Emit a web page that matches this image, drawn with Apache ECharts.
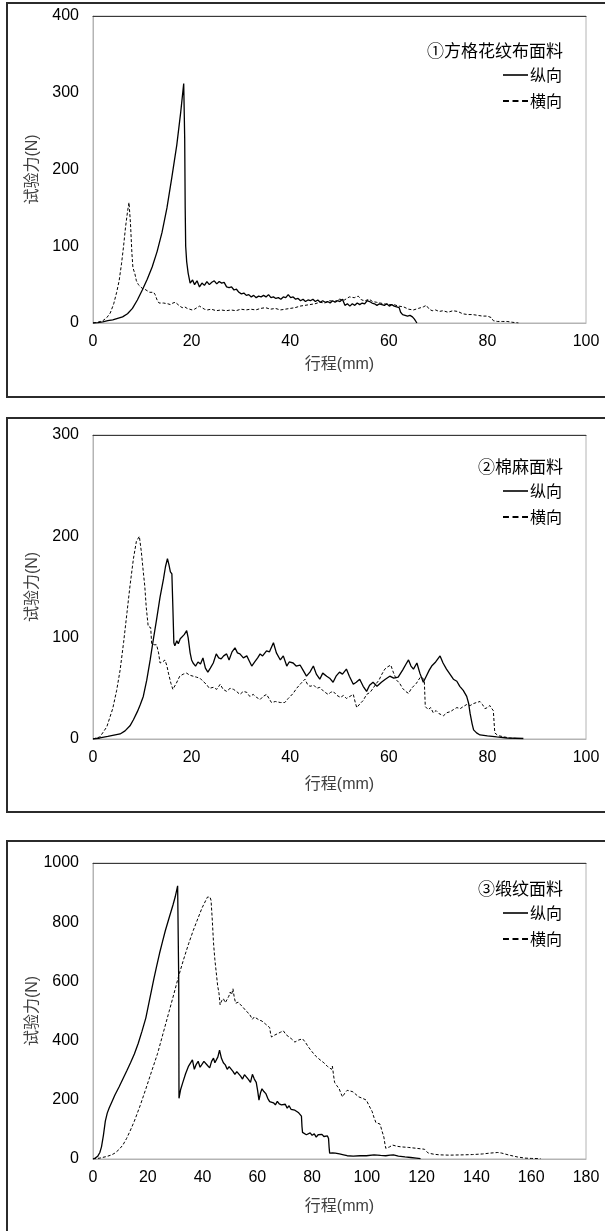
<!DOCTYPE html>
<html lang="zh">
<head>
    <meta charset="UTF-8">
    <title>试验力-行程曲线</title>
    <script src="https://cdn.jsdelivr.net/npm/echarts@6/dist/echarts.min.js"></script>
    <style>
        html, body { margin: 0; padding: 0; background: #fff; }
    </style>
</head>
<body>
    <div id="chart" style="width: 605px;height: 1231px;"></div>
    <script>
        // 面料名称
        var panelTitles = ['①方格花纹布面料', '②棉麻面料', '③缎纹面料'];
        var seriesNames = ['纵向', '横向'];
        // 坐标轴刻度
        var xMax = [100, 100, 180];
        var xStep = [20, 20, 20];
        var yMax = [400, 300, 1000];
        var yStep = [100, 100, 200];

        // ① 方格花纹布 [行程mm, 试验力N]
        var plaidWarp = [[0,0],[1,0.5],[2,1.5],[3,3],[4,4],[5,6],[6,8],[7,12],[8,19],[9,30],[10,43],[11,57],[12,73],[13,93],[14,118],[15,150],[16,190],[17,232],[17.8,275],[18.4,312],[18.6,240],[18.7,150],[18.8,100],[19,80],[19.3,65],
            [19.7,52],[20.2,56],[20.6,50],[21.1,55],[21.6,47],[22.1,52],[22.6,49],[23.1,54],[23.6,50],[24.1,53],[24.6,55],[25.1,51],[25.6,54],[26.1,52],[26.6,53],[27.1,47],[27.6,46],[28.1,47],[28.6,43],[29.1,44],[29.6,40],[30.1,38],[30.6,39],[31.1,36],[31.6,37],[32.1,34],[32.6,36],[33.1,33],[33.6,35],[34.1,34],[34.6,36],[35.1,34],[35.6,37],[36.1,33],[36.6,34],[37.1,32],[37.6,33],[38.1,31],[38.6,34],[39.1,33],[39.6,37],[40.1,33],[40.6,34],[41.1,31],[41.6,32],[42.1,29],[42.6,31],[43.1,28],[43.6,30],[44.1,29],[44.6,31],[45.1,28],[45.6,30],[46.1,27],[46.6,29],[47.1,27],[47.6,28],[48.1,26],[48.6,29],[49.1,27],[49.6,29],[50.1,28],[50.6,31],[51.1,23],[51.6,25],[52.1,22],[52.6,25],[53.1,23],[53.6,26],[54.1,24],[54.6,26],[55.1,25],[55.6,29],[56.1,28],[56.6,26],[57.1,25],[57.6,23],[58.1,25],[58.6,24],[59.1,23],[59.6,25],[60.1,22],[60.6,24],[61.1,22],[61.6,21],[62.1,20],[62.4,14],[62.8,11],[63.3,10],[63.8,9],[64.3,10],[64.8,8],[65.2,5],[65.7,0]];
        var plaidWeft = [[0,0],[1,1],[2,3],[2.8,7],[3.5,13],[4.2,25],[4.8,40],[5.3,55],[5.8,78],[6.2,100],[6.6,125],[7,145],[7.3,157],[7.6,130],[7.9,90],[8.1,72],[8.3,70],[8.5,64],[8.8,55],[9.2,50],[9.6,48],[10,45],[10.5,44],[11,42],[11.5,40],[11.9,38],[12.3,40],[12.6,37],[13,30],[13.4,26],[13.8,25],[14.3,26],[14.7,28],[15.2,25],[15.7,24],[16.2,26],[16.7,27],[17.1,25],[17.6,22],[18.1,20],[18.6,21],[19.1,19],[19.6,18],[20.1,17],[20.6,18],[21.1,20],[21.6,22],[22.1,20],[22.6,18],[23.2,17],[24,18],[25,16],[26,17],[27,16],[28,17],[29,16],[30,18],[31,17],[32,18],[33,17],[34,19],[35,20],[36,18],[37,19],[38,17],[39,18],[40,19],[41,20],[42,22],[43,23],[44,24],[45,25],[46,27],[47,26],[48,29],[49,28],[50,31],[51,30],[52,34],[53,33],[53.8,35],[54.5,30],[55.2,29],[56,31],[56.7,28],[57.5,27],[58.3,26],[59,25],[60,24],[61,24],[62,22],[63,21],[64,18],[65,17],[66,19],[67,21],[67.6,23],[68.2,18],[68.8,16],[69.5,17],[70.2,15],[71,16],[72,14],[73,16],[74,15],[75,12],[76,11],[77,11],[78,10],[79,9],[80,9],[80.8,7],[81.2,3],[82,2],[83,2],[84,2],[85,1],[86.3,0]];

        // ② 棉麻
        var cottonWarp = [[0,0],[1.4,1],[3,2.5],[4.5,4],[5.5,5],[6.5,8],[7.5,13],[8.2,19],[9,27],[9.6,34],[10.2,42],[10.9,58],[11.6,78],[12.2,97],[12.9,118],[13.6,140],[14.3,158],[14.7,170],[15.1,178],[15.4,172],[15.7,165],[16,163],[16.2,130],[16.4,95],[16.6,92],[17,97],[17.3,94],[17.7,99],[18,98],[18.5,103],[19,107],[19.3,100],[19.7,85],[20,78],[20.3,75],[20.8,72],[21.3,76],[21.8,74],[22.3,80],[22.8,70],[23.3,66],[23.8,70],[24.4,75],[25,84],[25.5,80],[26,79],[26.5,82],[27.1,84],[27.6,78],[28.2,86],[28.8,90],[29.3,85],[29.8,84],[30.5,80],[31.2,82],[31.7,77],[32.2,72],[32.8,76],[33.4,80],[33.9,84],[34.4,82],[35.2,87],[35.8,86],[36.6,95],[37.2,85],[37.6,86],[38,78],[38.6,82],[39.3,72],[39.8,76],[40.6,75],[41.2,72],[42,73],[42.6,68],[43.3,62],[44,66],[44.7,72],[45.3,64],[46,59],[46.6,65],[47.4,62],[48,60],[48.7,56],[49.3,62],[50,66],[50.6,64],[51.4,69],[52,62],[52.8,54],[53.4,56],[54.1,59],[54.8,52],[55.5,47],[56.1,53],[56.8,56],[57.6,52],[58.5,56],[59.3,59],[60.2,62],[61,60],[61.9,61],[62.8,68],[63.5,74],[64,78],[64.5,72],[65,69],[65.7,75],[66.3,65],[67,56],[67.6,62],[68.2,68],[68.7,72],[69.5,76],[70.4,82],[71,75],[71.7,69],[72.4,64],[73.1,59],[73.8,57],[74.4,52],[75.1,48],[75.8,42],[76.2,35],[76.5,25],[76.9,15],[77.2,9],[77.8,6],[78.5,4],[80,3],[81.9,2],[84,1],[87.3,0.5]];
        var cottonWeft = [[0,0],[1.4,2],[2.8,12],[4,30],[4.8,48],[5.5,68],[6.2,95],[6.9,125],[7.5,151],[8.2,178],[8.8,195],[9.4,200],[9.8,185],[10.2,165],[10.5,151],[10.8,130],[11.2,111],[11.7,110],[11.9,94],[12.4,93],[12.9,93],[13.3,85],[13.6,75],[14.1,76],[14.6,78],[15,72],[15.3,65],[15.8,55],[16.2,49],[16.9,55],[17.6,62],[18.3,64],[19,65],[19.6,63],[20.3,62],[21,61],[21.7,60],[22.3,57],[23,54],[23.6,50],[24.4,51],[25.1,49],[25.8,54],[26.4,49],[27.1,47],[27.8,50],[28.5,49],[29.1,47],[29.8,44],[30.5,47],[31.2,46],[31.8,42],[32.5,44],[33.2,41],[33.9,39],[34.5,42],[35.2,44],[35.7,40],[36.2,36],[37,37],[38,36],[38.9,36],[39.6,40],[40.6,45],[41.3,50],[42.2,55],[43,59],[43.5,54],[44,52],[44.8,53],[45.4,50],[46,51],[46.8,47],[47.7,44],[48.2,46],[48.7,47],[49.5,43],[50.2,41],[50.8,43],[51.4,40],[52.1,42],[52.8,44],[53.2,36],[53.5,31],[54.2,35],[54.8,38],[55.5,44],[56.2,46],[56.8,50],[57.5,55],[58,58],[58.6,64],[59.2,69],[59.7,71],[60.4,73],[60.9,66],[61.6,58],[62.2,55],[62.8,50],[63.4,47],[64,45],[64.6,50],[65,51],[65.6,55],[66.4,61],[66.9,60],[67.2,58],[67.4,32],[68,29],[68.5,31],[69,26],[69.6,28],[70.2,25],[71.1,23],[71.8,26],[72.5,27],[73.1,29],[73.8,31],[74.5,30],[75.1,32],[75.8,34],[76.5,33],[77.2,35],[77.8,36],[78.5,37],[79,34],[79.5,30],[80,31],[80.5,33],[80.9,30],[81.2,28],[81.5,6],[82,4],[82.5,3],[83.5,2],[84.5,1],[86,0.5]];

        // ③ 缎纹
        var satinWarp = [[0,0],[0.8,3],[1.7,9],[2.5,22],[3.1,41],[3.8,80],[4.5,128],[5.2,155],[5.9,172],[7,195],[8,216],[9.5,243],[10.9,270],[12.3,297],[13.7,325],[15.1,355],[16.5,390],[17.9,432],[19.3,477],[20.7,540],[22.2,608],[23.2,650],[24.3,695],[25.4,735],[26.4,771],[27.8,815],[29.2,858],[30,885],[30.9,923],[31.2,928],[31.3,600],[31.4,205],[32,235],[32.8,259],[33.8,288],[34.9,314],[35.6,320],[36.3,335],[37,303],[37.7,320],[38.4,330],[39.1,310],[39.8,308],[40.5,330],[41.2,335],[41.9,315],[42.6,308],[43.3,330],[44,341],[44.5,325],[45,319],[45.6,345],[46.2,368],[46.9,340],[47.6,325],[48.3,318],[49,303],[49.7,312],[50.4,308],[51.1,296],[51.8,286],[52.5,295],[53.2,292],[53.9,280],[54.6,270],[55.3,285],[56,281],[56.8,268],[57.5,259],[58.2,286],[58.9,270],[59.6,259],[60.1,232],[60.6,199],[61.2,225],[61.7,237],[62.4,228],[63.1,221],[63.8,205],[64.5,194],[65.2,200],[65.9,190],[66.6,183],[67.3,195],[68,186],[68.8,183],[69.5,178],[70.2,185],[70.9,172],[71.6,180],[72.3,168],[73,172],[73.7,165],[74.4,168],[75.1,156],[75.7,162],[76.1,145],[76.3,110],[76.5,90],[77.2,85],[77.9,82],[78.6,79],[79.3,88],[80,80],[80.8,85],[81.5,74],[82.2,82],[82.9,79],[83.6,83],[84.3,76],[85,74],[85.6,78],[86,69],[86.2,40],[86.4,20],[87.5,21],[88.5,20],[90,17],[91.5,14],[92.8,11],[95,10],[97.5,11],[99.8,11],[102.6,14],[105,12],[106.9,11],[108.5,13],[109.7,14],[111.5,10],[113.9,7],[116,5],[118,3],[119.6,1]];
        var satinWeft = [[0,0],[2.5,3],[5.2,9],[6.8,14],[8,20],[9.5,32],[10.9,47],[12.3,70],[13.7,98],[15.1,128],[17.2,180],[19.3,237],[21.4,296],[23.6,357],[25.7,428],[27.8,499],[29.6,560],[31.3,619],[33.1,675],[34.9,727],[36.6,772],[38.4,815],[39.8,848],[41.2,874],[41.8,885],[42.2,891],[42.7,885],[43.1,874],[43.6,800],[44,730],[44.5,673],[45,630],[45.5,586],[46,560],[46.4,521],[47,535],[47.6,542],[48.3,528],[49,531],[49.6,550],[50.1,564],[50.6,555],[51.1,575],[51.6,545],[52.1,526],[53,530],[53.9,521],[55,510],[56,499],[57.1,490],[58.2,472],[58.9,480],[59.6,482],[60.6,470],[61.7,466],[62.4,470],[63.1,455],[63.8,452],[64.5,444],[64.9,420],[65.2,412],[66.2,418],[67.3,423],[68.4,428],[69.5,433],[70.5,420],[71.6,412],[72.6,405],[73.7,395],[75.1,402],[76.5,406],[77.5,395],[78.6,379],[80,362],[81.5,346],[82.9,335],[84.3,325],[85.7,312],[87.1,303],[87.4,314],[87.8,285],[88.2,259],[89,248],[89.9,237],[90.5,222],[91.1,210],[91.9,222],[92.8,232],[93.8,230],[94.9,227],[96,218],[97,210],[98.4,205],[99.8,199],[100.8,180],[101.9,161],[102.6,140],[103.3,123],[104,125],[104.8,118],[105.5,95],[106.2,74],[106.6,50],[106.9,36],[107.6,38],[108.3,41],[109.4,47],[111,43],[112.5,41],[115.3,39],[118.2,36],[121,33],[121.7,27],[122.4,20],[124.5,16],[126.6,14],[130,13],[135.1,14],[138.5,15],[142.2,17],[145,20],[147.8,22],[149.2,20],[152,13],[154.9,7],[157.7,3],[160,2],[163.4,1]];

        var warpData = [plaidWarp, cottonWarp, satinWarp];
        var weftData = [plaidWeft, cottonWeft, satinWeft];

        // 版面位置
        var gridTops = [16, 435, 863];
        var gridHeights = [307, 304, 296];
        var boxTops = [3, 418, 841];
        var legendTops = [62, 478, 900];
        var titleTops = [37, 453, 875];
        var xNameGaps = [34, 38, 40];

        var numFont = "'Liberation Sans', 'Noto Sans CJK SC', sans-serif";
        var cjkFont = "'Noto Sans CJK SC', sans-serif";

        var grid = [], xAxis = [], yAxis = [], series = [], legend = [], title = [], graphic = [];
        for (var i = 0; i < 3; i++) {
            graphic.push({
                type: 'rect',
                shape: { x: 7, y: boxTops[i], width: 610, height: 394 },
                style: { fill: 'none', stroke: '#2b2b2b', lineWidth: 2 },
                silent: true
            });
            grid.push({
                left: 93, width: 493, top: gridTops[i], height: gridHeights[i],
                show: true, borderColor: '#b4b4b4', borderWidth: 1
            });
            xAxis.push({
                gridIndex: i,
                type: 'value',
                min: 0, max: xMax[i], interval: xStep[i],
                name: '行程(mm)',
                nameLocation: 'middle',
                nameGap: xNameGaps[i],
                nameMoveOverlap: false,
                nameTextStyle: { fontSize: 16, color: '#404040', fontFamily: numFont },
                axisLine: { show: true, onZero: false, lineStyle: { color: '#b4b4b4', width: 1 } },
                axisTick: { show: false },
                splitLine: { show: false },
                axisLabel: { fontSize: 16, color: '#000', margin: 11, fontFamily: numFont }
            });
            // 图框上边线
            xAxis.push({
                gridIndex: i,
                type: 'value',
                position: 'top',
                min: 0, max: xMax[i],
                axisLine: { show: true, onZero: false, lineStyle: { color: '#3a3a3a', width: 1 } },
                axisTick: { show: false },
                axisLabel: { show: false },
                splitLine: { show: false }
            });
            yAxis.push({
                gridIndex: i,
                type: 'value',
                min: 0, max: yMax[i], interval: yStep[i],
                name: '试验力(N)',
                nameLocation: 'middle',
                nameGap: 52,
                nameMoveOverlap: false,
                nameRotate: 90,
                nameTextStyle: { fontSize: 16, color: '#404040', fontFamily: numFont },
                axisLine: { show: true, lineStyle: { color: '#b4b4b4', width: 1 } },
                axisTick: { show: false },
                splitLine: { show: false },
                axisLabel: {
                    fontSize: 16, color: '#000', margin: 14, fontFamily: numFont,
                    formatter: function (v) { return String(v); }
                }
            });
            series.push({
                name: seriesNames[0],
                type: 'line',
                xAxisIndex: i * 2, yAxisIndex: i,
                data: warpData[i],
                showSymbol: false, symbol: 'none',
                lineStyle: { color: '#000', width: 1.3 },
                animation: false
            });
            series.push({
                name: seriesNames[1],
                type: 'line',
                xAxisIndex: i * 2, yAxisIndex: i,
                data: weftData[i],
                showSymbol: false, symbol: 'none',
                lineStyle: { color: '#000', width: 1, type: [3, 2] },
                animation: false
            });
            title.push({
                text: panelTitles[i],
                right: 37, top: titleTops[i],
                textStyle: { fontSize: 17, fontWeight: 'normal', color: '#000', fontFamily: cjkFont }
            });
            legend.push({
                orient: 'vertical',
                right: 38, top: legendTops[i],
                itemWidth: 25, itemHeight: 12, itemGap: 10,
                selectedMode: false,
                textStyle: { fontSize: 16, color: '#000', fontFamily: cjkFont, padding: [0, 0, 0, -3] },
                data: [
                    { name: seriesNames[0], icon: 'path://M0,0H25V1.6H0Z', itemStyle: { color: '#000' } },
                    { name: seriesNames[1], icon: 'path://M0,0H5V1.6H0ZM8,0H13V1.6H8ZM16,0H21V1.6H16Z', itemStyle: { color: '#000' } }
                ]
            });
        }

        var myChart = echarts.init(document.getElementById('chart'));
        myChart.setOption({
            animation: false,
            backgroundColor: '#fff',
            title: title,
            legend: legend,
            grid: grid,
            xAxis: xAxis,
            yAxis: yAxis,
            series: series,
            graphic: graphic
        });
    </script>
</body>
</html>
